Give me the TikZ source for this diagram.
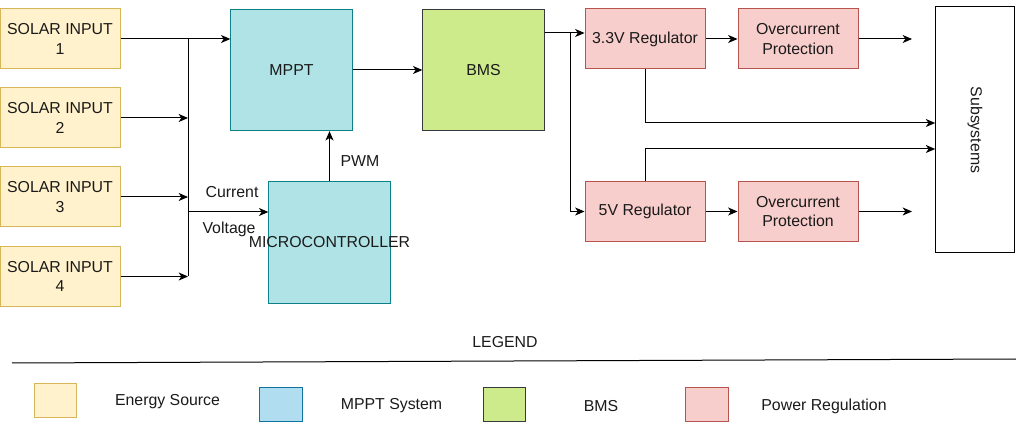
\documentclass[tikz,border=0pt]{standalone}
\usepackage{fontspec}
\setmainfont{Liberation Sans}
\usetikzlibrary{arrows.meta}
\definecolor{yfill}{HTML}{FFF2CC}\definecolor{ydraw}{HTML}{D6B656}
\definecolor{tfill}{HTML}{B0E3E6}\definecolor{tdraw}{HTML}{0E8088}
\definecolor{bfill}{HTML}{B1DDF0}\definecolor{bdraw}{HTML}{10739E}
\definecolor{gfill}{HTML}{CDEB8B}\definecolor{gdraw}{HTML}{36393D}
\definecolor{rfill}{HTML}{F8CECC}\definecolor{rdraw}{HTML}{B85450}
\definecolor{txt}{HTML}{1A1A1A}
\begin{document}
\begin{tikzpicture}[x=0.75pt,y=-0.75pt,
  every node/.style={font=\fontsize{11.9pt}{14.8pt}\selectfont, text=txt, inner sep=0pt, align=center},
  box/.style={draw, line width=0.75pt, minimum width=90pt, minimum height=45pt},
  src/.style={box, fill=yfill, draw=ydraw},
  ctl/.style={box, fill=tfill, draw=tdraw, minimum width=91pt, minimum height=91pt},
  bmsbox/.style={box, fill=gfill, draw=gdraw, minimum width=91pt, minimum height=91pt},
  reg/.style={box, fill=rfill, draw=rdraw},
  lgd/.style={draw, line width=0.75pt, minimum width=32pt, minimum height=25pt},
  wire/.style={line width=0.75pt, draw=black},
  arr/.style={wire, -{Stealth[length=7pt,width=6pt,inset=2pt]}}]
\useasboundingbox (0,0) rectangle (1016,423);
% energy sources
\node[src] (s1) at (60,39) {SOLAR INPUT\\1};
\node[src] (s2) at (60,118) {SOLAR INPUT\\2};
\node[src] (s3) at (60,197) {SOLAR INPUT\\3};
\node[src] (s4) at (60,276.5) {SOLAR INPUT\\4};
% MPPT, micro, BMS
\node[ctl] (mppt) at (291.5,70) {MPPT};
\node[ctl] (mc) at (329.5,242.5) {\makebox[0pt][c]{MICROCONTROLLER}};
\node[bmsbox] (bms) at (483.5,70) {BMS};
% regulation
\node[reg] (r33) at (645,39) {3.3V Regulator};
\node[reg] (r5) at (645,211.5) {5V Regulator};
\node[reg] (oc1) at (798,39) {Overcurrent\\Protection};
\node[reg] (oc2) at (798,211.5) {Overcurrent\\Protection};
\node[box, fill=white, draw=black, minimum width=59pt, minimum height=184.5pt] (sub) at (975,130) {};
\node[rotate=-90] (subt) at (sub.center) {Subsystems};
% bus
\coordinate (bt) at (188,39);
\coordinate (bb) at (188,276.5);
\coordinate (cv) at (188,212);
\draw[arr] (s1.east) -- (s1.east -| mppt.west);
\draw[wire] (bt) -- (bb);
\draw[arr] (s2.east) -- (s2.east -| bt);
\draw[arr] (s3.east) -- (s3.east -| bt);
\draw[arr] (s4.east) -- (s4.east -| bt);
\draw[arr] (cv) -- (cv -| mc.west);
\node (cur) at (232,192) {Current};
\node (vol) at (229,229) {Voltage};
\draw[arr] (mc.north) -- (mc.north |- mppt.south);
\node (pwm) at (360,161) {PWM};
\draw[arr] (mppt.east) -- (bms.west);
% BMS to regulators
\coordinate (sp) at (570,33);
\draw[wire] (bms.east |- sp) -- (sp);
\draw[arr] (sp) -- (sp -| r33.west);
\draw[arr] (sp) |- (r5.west);
\draw[arr] (r33.east) -- (oc1.west);
\draw[arr] (r5.east) -- (oc2.west);
\coordinate (o1) at (912,39);
\coordinate (o2) at (912,211.5);
\draw[arr] (oc1.east) -- (o1);
\draw[arr] (oc2.east) -- (o2);
\coordinate (a1) at (645,123);
\coordinate (a2) at (645,149);
\draw[arr] (r33.south) -- (a1) -- (a1 -| sub.west);
\draw[arr] (r5.north) -- (a2) -- (a2 -| sub.west);
% legend
\node (lg) at (505,342) {LEGEND};
\coordinate (l1) at (12,363);
\coordinate (l2) at (1016,359);
\draw[wire] (l1) -- (l2);
\node[lgd, fill=yfill, draw=ydraw] (k1) at (55.5,400.5) {};
\node (k1t) at (167.5,402) {Energy Source};
\node[lgd, fill=bfill, draw=bdraw] (k2) at (281,404.5) {};
\node (k2t) at (391.5,406) {MPPT System};
\node[lgd, fill=gfill, draw=gdraw] (k3) at (504.5,404.5) {};
\node (k3t) at (601,406) {BMS};
\node[lgd, fill=rfill, draw=rdraw] (k4) at (707,404.5) {};
\node (k4t) at (824,406) {Power Regulation};
\end{tikzpicture}
\end{document}
